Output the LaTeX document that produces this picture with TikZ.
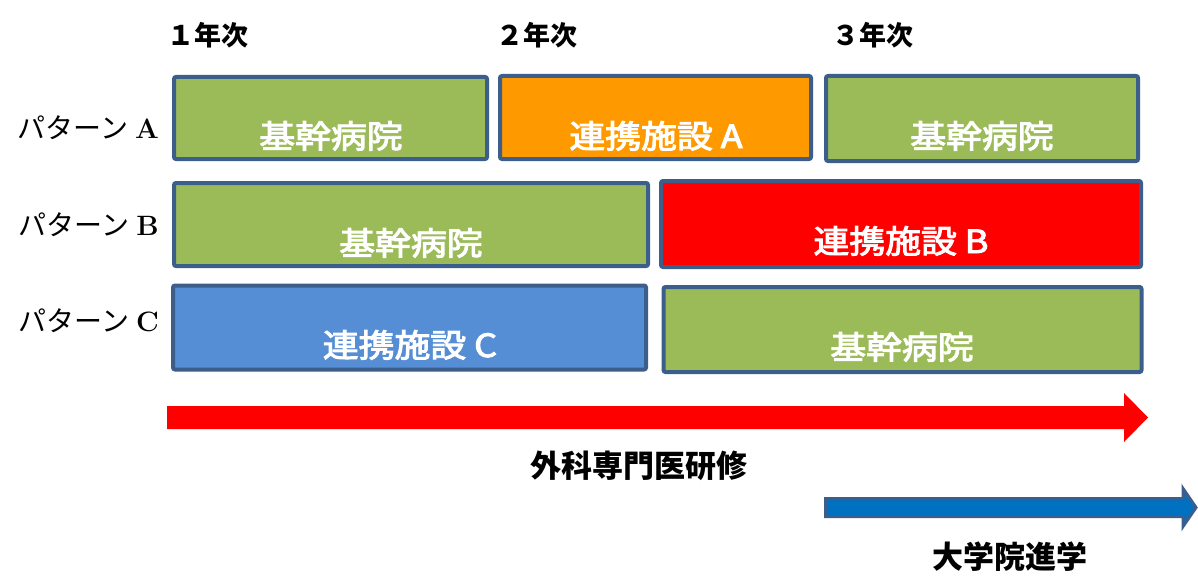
\documentclass[tikz,border=0pt]{standalone}
\usepackage{fontspec}
\newfontfamily\jp{Noto Sans CJK JP}
\newfontfamily\jpm[FakeBold=3]{Noto Sans CJK JP}
\definecolor{bgreen}{HTML}{9BBB59}
\definecolor{borange}{HTML}{FF9900}
\definecolor{bred}{HTML}{FF0000}
\definecolor{bblue}{HTML}{558ED5}
\definecolor{bborder}{HTML}{3B5E8B}
\definecolor{arblue}{HTML}{0070C0}
\definecolor{arborder}{HTML}{3B5E8C}
\newcommand{\boxlbl}[1]{\scalebox{1.12}[1]{\jpm\fontsize{32}{36}\selectfont #1}}
\newcommand{\rowlbl}[1]{{\jp\fontsize{28}{30}\selectfont パターン}\hspace{7pt}{\fontsize{28}{30}\selectfont\bfseries #1}}
\begin{document}
\begin{tikzpicture}[x=1pt,y=-1pt,
  box/.style={draw=bborder, line width=4pt, rounded corners=2pt, inner sep=0pt},
  boxtext/.style={text=white, anchor=base, inner sep=0pt},
  yeartext/.style={font=\jp\bfseries\fontsize{27}{30}\selectfont, text=black},
  rowtext/.style={anchor=base east, text=black, inner sep=0pt},
  bigtext/.style={font=\jp\bfseries\fontsize{31}{34}\selectfont, text=black}]
\useasboundingbox (0,0) rectangle (1198,575);
\clip (0,0) rectangle (1198,575);
% year labels
\node[yeartext] (y1) at (207.5,35) {１年次};
\node[yeartext] (y2) at (537,35) {２年次};
\node[yeartext] (y3) at (872.5,35) {３年次};
% row labels
\node[rowtext] (ra) at (159,139) {\rowlbl{A}};
\node[rowtext] (rb) at (159,235) {\rowlbl{B}};
\node[rowtext] (rc) at (159,331) {\rowlbl{C}};
% boxes row A
\node[box, fill=bgreen, minimum width=313pt, minimum height=82pt] (a1) at (330.5,118) {};
\node[box, fill=borange, minimum width=311pt, minimum height=83pt] (a2) at (655.5,117.5) {};
\node[box, fill=bgreen, minimum width=312pt, minimum height=85pt] (a3) at (982,118.5) {};
% row B
\node[box, fill=bgreen, minimum width=474pt, minimum height=83pt] (b1) at (411,224.5) {};
\node[box, fill=bred, minimum width=480pt, minimum height=86pt] (b2) at (901,224) {};
% row C
\node[box, fill=bblue, minimum width=473pt, minimum height=84pt] (c1) at (409.5,327.5) {};
\node[box, fill=bgreen, minimum width=478pt, minimum height=85pt] (c2) at (902.5,329.5) {};
% box texts
\node[boxtext] (ta1) at (331,148) {\boxlbl{基幹病院}};
\node[boxtext] (ta2) at (656,148) {\boxlbl{連携施設 A}};
\node[boxtext] (ta3) at (982,148) {\boxlbl{基幹病院}};
\node[boxtext] (tb1) at (411,255) {\boxlbl{基幹病院}};
\node[boxtext] (tb2) at (901,253) {\boxlbl{連携施設 B}};
\node[boxtext] (tc1) at (410,357) {\boxlbl{連携施設 C}};
\node[boxtext] (tc2) at (902,359) {\boxlbl{基幹病院}};
% red arrow
\fill[bred] (167,406) -- (1124,406) -- (1124,393) -- (1148,417.5) -- (1124,442) -- (1124,429) -- (167,429) -- cycle;
\node[bigtext] (t1) at (638.5,466) {外科専門医研修};
% blue arrow
\filldraw[fill=arblue, draw=arborder, line width=3pt, line join=miter] (825.5,498.5) -- (1183,498.5) -- (1183,488.5) -- (1196,507.5) -- (1183,526.5) -- (1183,516.5) -- (825.5,516.5) -- cycle;
\node[bigtext] (t2) at (1010,557) {大学院進学};
\end{tikzpicture}
\end{document}
